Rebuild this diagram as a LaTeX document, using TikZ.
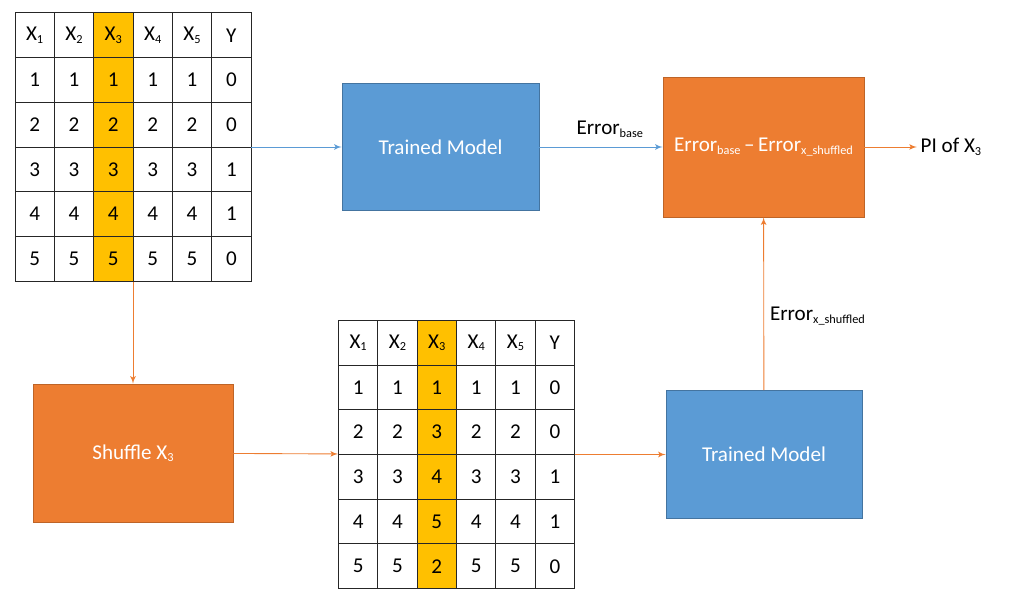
\documentclass[tikz,border=0pt]{standalone}
\usepackage{fontspec}
\setmainfont{Carlito}
\usetikzlibrary{arrows,positioning,matrix}
\definecolor{modelblue}{HTML}{5B9BD5}
\definecolor{shuforange}{HTML}{ED7D31}
\definecolor{colgold}{HTML}{FFC000}
\newcommand{\sub}[1]{\raisebox{-0.25ex}{\scriptsize #1}}

\begin{document}
\begin{tikzpicture}[
    >=latex',
    font=\fontsize{12}{14}\selectfont,
    cell/.style={
		draw=black!85,
		line width=0.5pt,
		minimum width=0.787cm,
		minimum height=0.894cm,
		inner sep=0pt,
		anchor=center
	},
    datatable/.style={
		matrix of nodes,
		inner sep=0pt,
		outer sep=0pt,
		nodes={cell},
		column sep=-0.5pt,
		row sep=-0.5pt,
		column 3/.style={nodes={fill=colgold}}
	},
    model/.style={
		rectangle,
		fill=modelblue,
		draw=modelblue!75!black,
		text=white,
		minimum width=3.94cm,
		minimum height=2.54cm
	},
    process/.style={
		rectangle,
		fill=shuforange,
		draw=shuforange!80!black,
		text=white,
		minimum width=4cm,
		minimum height=2.76cm
	},
    blueline/.style={draw=modelblue, line width=0.5pt, ->},
    orangeline/.style={draw=shuforange, line width=0.5pt, ->}
  ]
  \useasboundingbox (0,0) rectangle (20.48,-12.1);

  % original data
  \matrix (table1) [datatable] at (2.66,-2.94) {
    X\sub1 & X\sub2 & X\sub3 & X\sub4 & X\sub5 & Y \\
    1 & 1 & 1 & 1 & 1 & 0 \\
    2 & 2 & 2 & 2 & 2 & 0 \\
    3 & 3 & 3 & 3 & 3 & 1 \\
    4 & 4 & 4 & 4 & 4 & 1 \\
    5 & 5 & 5 & 5 & 5 & 0 \\
  };

  % data with shuffled column
  \matrix (table2) [datatable] at (9.13,-9.09) {
    X\sub1 & X\sub2 & X\sub3 & X\sub4 & X\sub5 & Y \\
    1 & 1 & 1 & 1 & 1 & 0 \\
    2 & 2 & 3 & 2 & 2 & 0 \\
    3 & 3 & 4 & 3 & 3 & 1 \\
    4 & 4 & 5 & 4 & 4 & 1 \\
    5 & 5 & 2 & 5 & 5 & 0 \\
  };

  \node [model] (model1) at (8.81,-2.94) {Trained Model};
  \node [process, minimum width=4.02cm, minimum height=2.8cm] (diff) at (15.27,-2.94)
    {Error\sub{base}\,–\,Error\sub{x\_shuffled}};
  \node [right=1.05cm of diff, inner sep=2pt] (result) {PI of X\sub3};
  \node [process] (shuffle) at (2.66,-9.06) {Shuffle X\sub3};
  \node [model, minimum width=3.92cm, minimum height=2.56cm] (model2) at (15.28,-9.09) {Trained Model};

  \draw [blueline] (table1) -- (model1);
  \draw [blueline] (model1) -- node [above=2pt, xshift=5pt] {Error\sub{base}} (diff);
  \draw [orangeline] (diff) -- (result);
  \draw [orangeline] (table1) -- (shuffle);
  \draw [orangeline] (shuffle) -- (table2);
  \draw [orangeline] (table2) -- (model2);
  \draw [orangeline] (model2) -- node [right, pos=0.43] {Error\sub{x\_shuffled}} (diff);

\end{tikzpicture}
\end{document}
